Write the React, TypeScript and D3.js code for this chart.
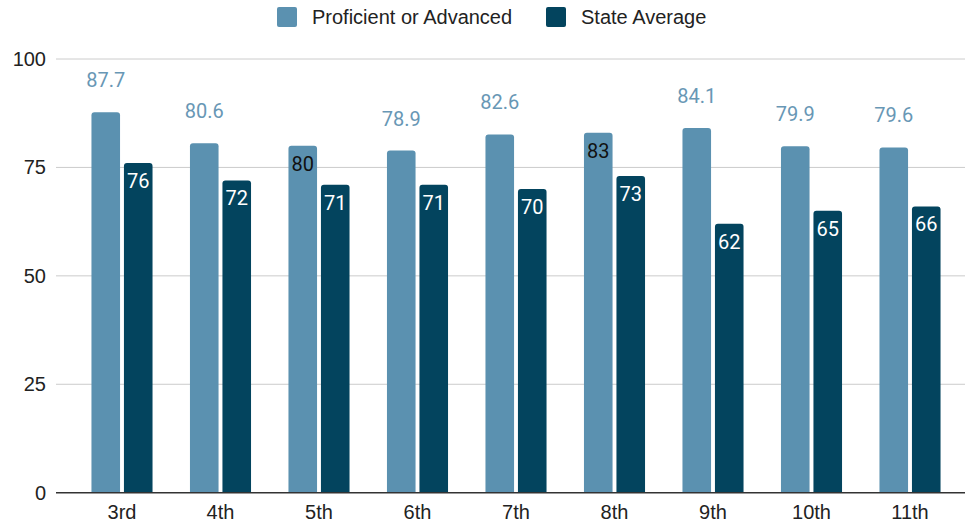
import React, { useRef, useEffect } from 'react';
import * as d3 from 'd3';

const grades = ['3rd', '4th', '5th', '6th', '7th', '8th', '9th', '10th', '11th'];
const proficient = [87.7, 80.6, 80, 78.9, 82.6, 83, 84.1, 79.9, 79.6];
const stateAverage = [76, 72, 71, 71, 70, 73, 62, 65, 66];
// labels drawn inside the light bar (dark text) instead of above it
const insideLabels = ['5th', '8th'];
const yTicks = [0, 25, 50, 75, 100];
const seriesNames = ['Proficient or Advanced', 'State Average'];

const LIGHT = '#5b91b0';
const DARK = '#03445e';

const width = 965;
const height = 522;

const roundedTop = (x: number, y: number, w: number, h: number, r: number) => {
  const rr = Math.min(r, h);
  return `M${x},${y + h}V${y + rr}Q${x},${y} ${x + rr},${y}H${x + w - rr}Q${x + w},${y} ${x + w},${y + rr}V${y + h}Z`;
};

const App: React.FC = () => {
  const svgRef = useRef<SVGSVGElement>(null);

  useEffect(() => {
    if (!svgRef.current) return;
    const svg = d3.select(svgRef.current);
    svg.selectAll('*').remove();

    const left = 56;
    const baseY = 492.7;
    const topY = 59;

    const y = d3.scaleLinear().domain([0, 100]).range([baseY, topY]);

    const x0 = d3.scaleBand<string>()
      .domain(grades)
      .range([left, 976])
      .paddingInner(0.38)
      .paddingOuter(0.36);

    const x1 = d3.scaleBand<string>()
      .domain(['p', 's'])
      .range([0, x0.bandwidth()])
      .paddingInner(0.12);

    const font = "'Liberation Sans', Arial, sans-serif";
    const labelFont = "Roboto, 'Liberation Sans', sans-serif";

    // gridlines
    svg.append('g')
      .selectAll('line')
      .data(yTicks.filter(t => t !== 0))
      .enter()
      .append('line')
      .attr('x1', left)
      .attr('x2', width)
      .attr('y1', d => y(d))
      .attr('y2', d => y(d))
      .attr('stroke', '#cccccc')
      .attr('stroke-width', 1);

    // y tick labels
    svg.append('g')
      .selectAll('text')
      .data(yTicks)
      .enter()
      .append('text')
      .attr('x', 46)
      .attr('y', d => y(d))
      .attr('dy', '0.35em')
      .attr('text-anchor', 'end')
      .style('font-family', font)
      .style('font-size', '20px')
      .style('fill', '#222')
      .text(d => d);

    const groups = svg.append('g')
      .selectAll('g')
      .data(grades)
      .enter()
      .append('g')
      .attr('transform', d => `translate(${x0(d)},0)`);

    const bw = x1.bandwidth();

    // proficient bars
    groups.append('path')
      .attr('d', (d, i) => roundedTop(x1('p')!, y(proficient[i]), bw, baseY - y(proficient[i]), 3))
      .attr('fill', LIGHT);

    // state bars
    groups.append('path')
      .attr('d', (d, i) => roundedTop(x1('s')!, y(stateAverage[i]), bw, baseY - y(stateAverage[i]), 3))
      .attr('fill', DARK);

    // proficient labels
    groups.append('text')
      .attr('x', x1('p')! + bw / 2)
      .attr('y', (d, i) => insideLabels.includes(d) ? y(proficient[i]) + 25 : y(proficient[i]) - 25)
      .attr('text-anchor', 'middle')
      .style('font-family', labelFont)
      .style('font-size', '20px')
      .style('fill', d => insideLabels.includes(d) ? '#111' : '#6897b5')
      .text((d, i) => proficient[i]);

    // state labels
    groups.append('text')
      .attr('x', x1('s')! + bw / 2)
      .attr('y', (d, i) => y(stateAverage[i]) + 25)
      .attr('text-anchor', 'middle')
      .style('font-family', labelFont)
      .style('font-size', '20px')
      .style('fill', '#ffffff')
      .text((d, i) => stateAverage[i]);

    // baseline
    svg.append('line')
      .attr('x1', left)
      .attr('x2', width)
      .attr('y1', baseY)
      .attr('y2', baseY)
      .attr('stroke', '#333')
      .attr('stroke-width', 1.5);

    // x labels
    svg.append('g')
      .selectAll('text')
      .data(grades)
      .enter()
      .append('text')
      .attr('x', d => x0(d)! + x0.bandwidth() / 2)
      .attr('y', 519)
      .attr('text-anchor', 'middle')
      .style('font-family', font)
      .style('font-size', '20px')
      .style('fill', '#222')
      .text(d => d);

    // legend
    const legendX = [277, 546];
    const legend = svg.append('g')
      .selectAll('g')
      .data(seriesNames)
      .enter()
      .append('g')
      .attr('transform', (d, i) => `translate(${legendX[i]},7)`);

    legend.append('rect')
      .attr('width', 20)
      .attr('height', 20)
      .attr('rx', 2)
      .attr('fill', (d, i) => (i === 0 ? LIGHT : DARK));

    legend.append('text')
      .attr('x', 35)
      .attr('y', 17)
      .style('font-family', font)
      .style('font-size', '20px')
      .style('fill', '#222')
      .text(d => d);
  }, []);

  return (
    <svg
      ref={svgRef}
      width={width}
      height={height}
      style={{ display: 'block', position: 'absolute', left: 0, top: 0, background: '#fff' }}
      viewBox={`0 0 ${width} ${height}`}
    />
  );
};

export default App;
